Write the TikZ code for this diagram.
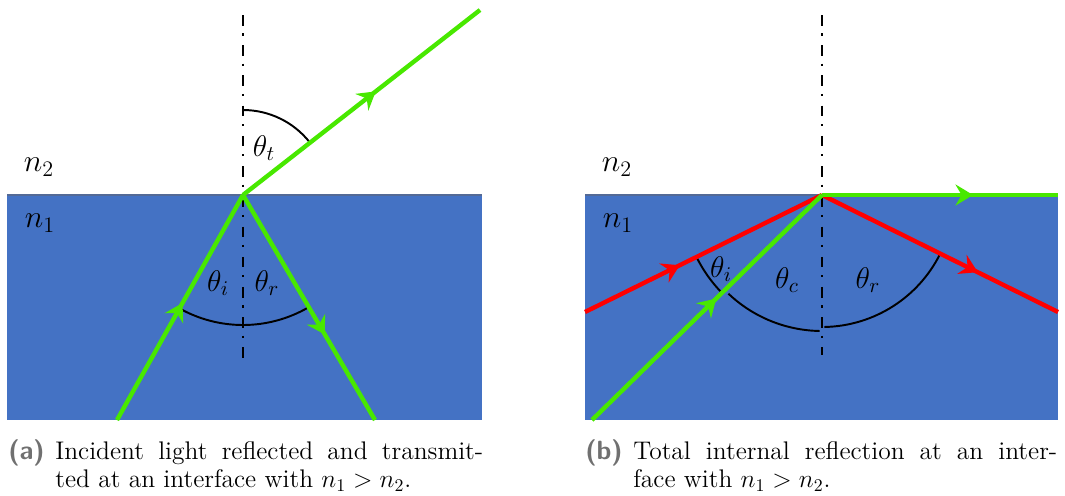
\RequirePackage{fix-cm}
\documentclass[tikz,border=0pt]{standalone}
\usepackage{fontspec}
\usetikzlibrary{arrows.meta,decorations.markings}
\definecolor{RayGreen}{RGB}{72,232,0}
\definecolor{RayRed}{RGB}{255,0,0}
\definecolor{MediumBlue}{RGB}{68,114,196}
\definecolor{EdgeBlue}{RGB}{84,106,150}
\definecolor{TagGray}{RGB}{112,112,112}

\begin{document}
\begin{tikzpicture}[
        x=0.02cm, y=0.02cm,
        medium/.style={
            fill=MediumBlue,
            draw=none
        },
        interface/.style={
            draw=EdgeBlue,
            line width=1pt
        },
        normal/.style={
            black,
            line width=1.3pt,
            dash pattern=on 6pt off 4.5pt on 1.2pt off 5.5pt
        },
        ray/.style={
            line width=2.5pt
        },
        midarrow/.style={
            decoration={markings,
                mark=at position #1 with {\arrow{Stealth[length=10pt,width=12pt,inset=3.5pt]}}},
            postaction={decorate}
        },
        anglearc/.style={
            black,
            line width=1.1pt
        },
        symbol/.style={
            font=\fontsize{18}{21}\selectfont,
            inner sep=0pt
        },
        angle/.style={
            font=\fontsize{17}{20}\selectfont,
            inner sep=0pt
        },
        tag/.style={
            font=\fontsize{15}{17}\selectfont\sffamily\bfseries,
            text=TagGray,
            inner sep=0pt,
            anchor=base west
        },
        caption/.style={
            font=\fontsize{14.5}{16.5}\selectfont,
            align=justify,
            inner sep=0pt,
            anchor=base west
        }
    ]
    \useasboundingbox (0,0) rectangle (1065,495);

    % (a) Reflection and transmission
    \coordinate (Oa) at (243,300);
    \coordinate (ina) at (117,75);
    \coordinate (refa) at (375,75);
    \coordinate (trna) at (480,485);
    \coordinate (nta) at (243,480);
    \coordinate (nba) at (243,130);

    \fill[medium] (7,75) rectangle (482,300);
    \draw[interface] (7,300) -- (482,300);
    \draw[normal] (nta) -- (nba);

    \draw[anglearc] (Oa) ++(90:85) arc[start angle=90, end angle=38, radius=85];
    \draw[anglearc] (Oa) ++(240.7:130) arc[start angle=240.7, end angle=270, radius=130];
    \draw[anglearc] (Oa) ++(270:130) arc[start angle=270, end angle=300, radius=130];

    \draw[ray, RayGreen, midarrow=0.52] (ina) -- (Oa);
    \draw[ray, RayGreen, midarrow=0.62] (Oa) -- (refa);
    \draw[ray, RayGreen, midarrow=0.56] (Oa) -- (trna);

    \node[symbol] (n2a) at (39,328) {$n_2$};
    \node[symbol] (n1a) at (40,272) {$n_1$};
    \node[angle] (tta) at (264,347) {$\theta_t$};
    \node[angle] (tia) at (218,212) {$\theta_i$};
    \node[angle] (tra) at (267,212) {$\theta_r$};

    \node[tag] (taga) at (8,36) {(a)};
    \node[caption, text width=8.56cm] (capa) at (55,36) {
        Incident light reflected and transmit-\linebreak
        ted at an interface with $n_1 > n_2$.
    };

    % (b) Total internal reflection
    \coordinate (Ob) at (822,300);
    \coordinate (inb) at (592,75);
    \coordinate (outb) at (1058,300);
    \coordinate (redinb) at (585,183);
    \coordinate (redoutb) at (1058,183);
    \coordinate (ntb) at (822,480);
    \coordinate (nbb) at (822,140);

    \fill[medium] (585,75) rectangle (1058,300);
    \draw[interface] (585,300) -- (1058,300);
    \draw[normal] (ntb) -- (nbb);

    \draw[anglearc] (Ob) ++(206.3:140) arc[start angle=206.3, end angle=224.4, radius=140];
    \draw[anglearc] (Ob) ++(226.5:136) arc[start angle=226.5, end angle=269, radius=136];
    \draw[anglearc] (Ob) ++(271:132) arc[start angle=271, end angle=333.7, radius=132];

    \draw[ray, RayRed, midarrow=0.40] (redinb) -- (Ob);
    \draw[ray, RayRed, midarrow=0.66] (Ob) -- (redoutb);
    \draw[ray, RayGreen, midarrow=0.54] (inb) -- (Ob);
    \draw[ray, RayGreen, midarrow=0.64] (Ob) -- (outb);

    \node[symbol] (n2b) at (617,328) {$n_2$};
    \node[symbol] (n1b) at (618,272) {$n_1$};
    \node[angle] (tib) at (721,226) {$\theta_i$};
    \node[angle] (tcb) at (787,215) {$\theta_c$};
    \node[angle] (trb) at (868,215) {$\theta_r$};

    \node[tag] (tagb) at (585,36) {(b)};
    \node[caption, text width=8.48cm] (capb) at (633,36) {
        Total internal reflection at an inter-\linebreak
        face with $n_1 > n_2$.
    };

\end{tikzpicture}
\end{document}
